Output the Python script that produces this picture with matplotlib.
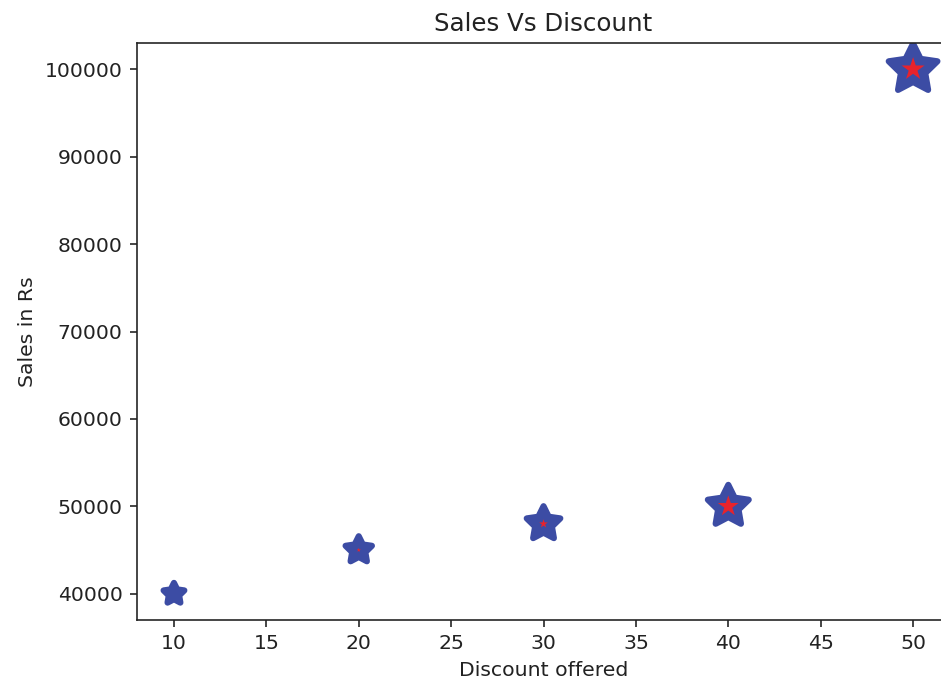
import matplotlib.pyplot as plt

discount = [10, 20, 30, 40, 50]
sales = [40000, 45000, 48000, 50000, 100000]
size = [115, 185, 300, 445, 630]
# red centre stars (what shows through the thick blue edge)
inner_size = [0, 5, 20, 115, 140]

plt.rcParams["text.color"] = "#222222"
plt.rcParams["axes.labelcolor"] = "#222222"
plt.rcParams["xtick.color"] = "#222222"
plt.rcParams["ytick.color"] = "#222222"
plt.rcParams["axes.edgecolor"] = "#222222"

fig = plt.figure(figsize=(941 / 147, 680 / 147), dpi=147)
ax = fig.add_axes([0.1456, 0.0882, 0.864, 0.8486])

# chubby 5-point star for the blue body
ax.scatter(discount, sales, s=size, marker=(5, 1, 0), color="#3c4ca4",
           edgecolors="#3c4ca4", linewidths=3)
ax.scatter(discount, sales, s=inner_size, marker="*", color="#e8232c",
           linewidths=0)
ax.set_title("Sales Vs Discount")
ax.set_xlabel("Discount offered")
ax.set_ylabel("Sales in Rs")

fig.savefig("out.png", dpi=147)
